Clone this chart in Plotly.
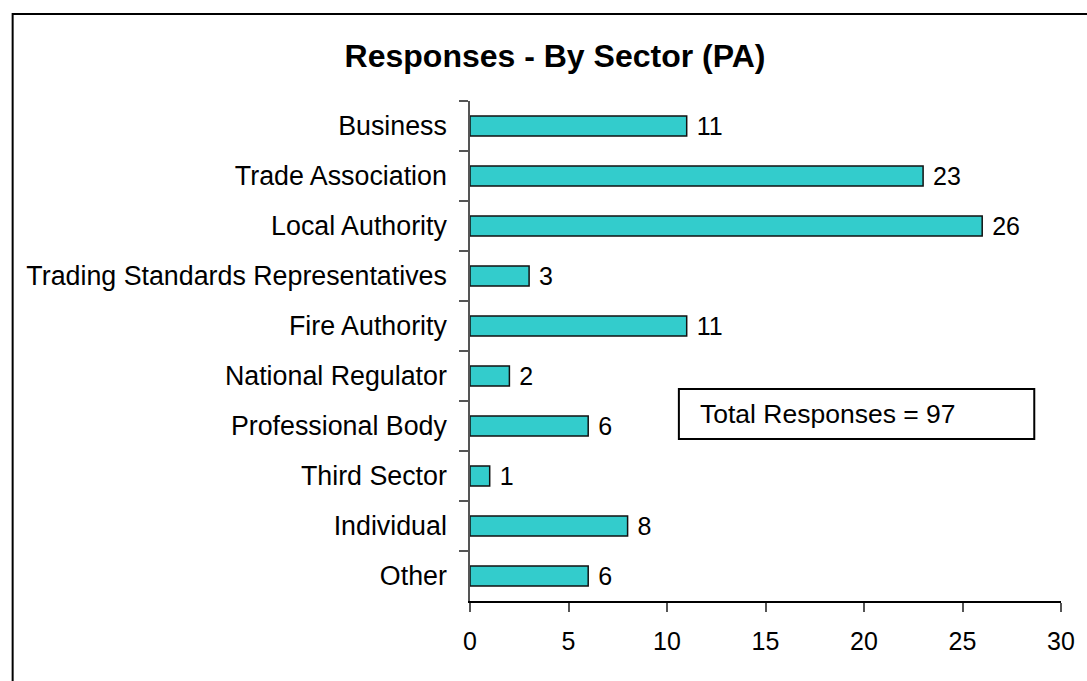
import plotly.graph_objects as go

sectors = ["Business", "Trade Association", "Local Authority",
           "Trading Standards Representatives", "Fire Authority",
           "National Regulator", "Professional Body", "Third Sector",
           "Individual", "Other"]
responses = [11, 23, 26, 3, 11, 2, 6, 1, 8, 6]
x_ticks = [0, 5, 10, 15, 20, 25, 30]
title_text = "Responses - By Sector (PA)"
note_text = "Total Responses = 97"

FONT = "Liberation Sans, Arial, sans-serif"

fig = go.Figure()
fig.add_trace(go.Bar(
    x=responses, y=sectors, orientation="h",
    marker=dict(color="#33CCCC", line=dict(color="#111111", width=1.5)),
    text=[" " + str(v) for v in responses], textposition="outside",
    constraintext="none",
    textfont=dict(family=FONT, size=25, color="black"),
    cliponaxis=False, hoverinfo="x+y",
))

W, H = 1087, 681
L, R, T, B = 470, 20, 101, 80
pw = W - L - R
ph = H - T - B

def px_x(x):
    return (x - L) / pw

def px_y(y):
    return (H - B - y) / ph

fig.update_layout(
    width=W, height=H,
    margin=dict(l=L, r=R, t=T, b=B),
    paper_bgcolor="white", plot_bgcolor="white",
    bargap=0.6, showlegend=False,
    font=dict(family=FONT, color="black"),
    title=dict(text="<b>" + title_text + "</b>", x=555 / W, xanchor="center",
               xref="container", y=1 - 56 / H, yanchor="middle", yref="container",
               font=dict(family=FONT, size=32, color="black")),
    xaxis=dict(range=[0, 30], tickvals=x_ticks, showgrid=False, zeroline=False,
               showline=True, linecolor="black", linewidth=1.5,
               ticks="outside", ticklen=9, tickcolor="#555555", tickwidth=1.5,
               tickfont=dict(family=FONT, size=25, color="black"),
               ticklabelstandoff=8, fixedrange=True),
    yaxis=dict(categoryorder="array", categoryarray=sectors, autorange="reversed",
               showgrid=False, zeroline=False, showline=True,
               linecolor="#555555", linewidth=1.5,
               ticks="outside", ticklen=9, tickcolor="#555555", tickwidth=1.5,
               tickson="boundaries",
               tickfont=dict(family=FONT, size=26.8, color="black"),
               ticklabelstandoff=16, fixedrange=True),
)

# outer frame
fig.add_shape(type="rect", xref="paper", yref="paper",
              x0=px_x(8), x1=px_x(1300), y0=px_y(14), y1=px_y(800),
              line=dict(color="black", width=2), fillcolor="rgba(0,0,0,0)", layer="above")
# note box
fig.add_shape(type="rect", xref="paper", yref="paper",
              x0=px_x(681), x1=px_x(1040), y0=px_y(389), y1=px_y(439),
              line=dict(color="black", width=2), fillcolor="white")
fig.add_annotation(xref="paper", yref="paper", x=px_x(700), y=px_y(414),
                   xanchor="left", yanchor="middle", showarrow=False,
                   text=note_text, font=dict(family=FONT, size=26.5, color="black"))

fig.write_html("out.html")
